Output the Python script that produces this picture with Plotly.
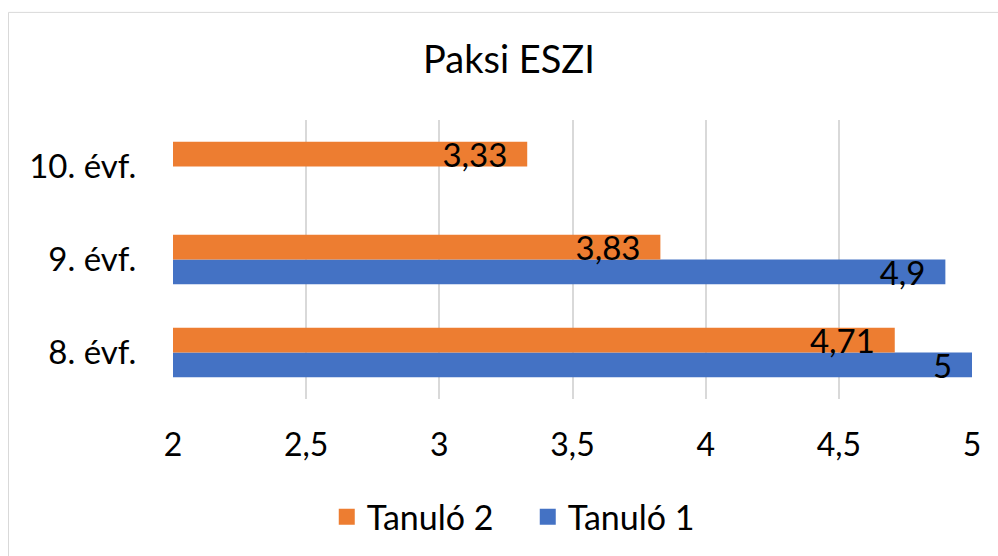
import plotly.graph_objects as go

categories = ["8. évf.", "9. évf.", "10. évf."]
tanulo1 = [5, 4.9, None]
tanulo2 = [4.71, 3.83, 3.33]
series_names = ["Tanuló 1", "Tanuló 2"]
colors = ["#4472C4", "#ED7D31"]
x_ticks = [2, 2.5, 3, 3.5, 4, 4.5, 5]

FONT = "Lato"
PAD = "\u00a0\u00a0"


def fmt(v):
    if v is None:
        return ""
    s = ("%g" % v).replace(".", ",")
    return s + PAD


fig = go.Figure()
for name, vals, col in zip(series_names, [tanulo1, tanulo2], colors):
    fig.add_trace(go.Bar(
        y=categories, x=vals, orientation="h", name=name,
        marker=dict(color=col, line=dict(width=0)),
        text=[fmt(v) for v in vals], textposition="inside", textangle=0,
        insidetextanchor="end", constraintext="none",
        textfont=dict(family=FONT, size=33, color="black"),
        showlegend=False, cliponaxis=False,
    ))
    # legend proxies
    fig.add_trace(go.Scatter(
        x=[None], y=[None], mode="markers", name=name,
        marker=dict(symbol="square", size=16, color=col),
        showlegend=True,
    ))

fig.update_layout(
    width=998, height=556,
    margin=dict(l=173, r=26, t=120, b=156),
    paper_bgcolor="white", plot_bgcolor="white",
    separators=", ",
    barmode="group", bargap=0.47, bargroupgap=0,
    title=dict(text="Paksi ESZI", x=0.51, xanchor="center", y=0.892, yanchor="middle",
               font=dict(family=FONT, size=38, color="black")),
    font=dict(family=FONT, color="black"),
    legend=dict(orientation="h", x=0.444, xanchor="center", y=-0.418, yanchor="middle",
                traceorder="reversed", font=dict(family=FONT, size=34, color="black"),
                itemsizing="trace", itemwidth=30,
                entrywidth=156, entrywidthmode="pixels"),
    xaxis=dict(range=[2, 5], tickvals=x_ticks, showgrid=True, gridcolor="#D9D9D9",
               gridwidth=1.5, zeroline=False, showline=False,
               ticks="outside", ticklen=18, tickcolor="rgba(0,0,0,0)",
               tickfont=dict(family=FONT, size=32, color="black")),
    yaxis=dict(categoryorder="array", categoryarray=categories, range=[-0.5, 2.5],
               showgrid=False, zeroline=False, showline=False,
               ticks="outside", ticklen=29, tickcolor="rgba(0,0,0,0)",
               tickfont=dict(family=FONT, size=33, color="black")),
    shapes=[dict(type="rect", xref="paper", yref="paper",
                 x0=(8.5 - 173) / 799, x1=1.2, y0=-0.8, y1=(400 - 12) / 280,
                 line=dict(color="#D9D9D9", width=1), layer="below")],
)

fig.write_html("out.html", config={"displayModeBar": False},
               post_script="document.body.style.margin='0';")
